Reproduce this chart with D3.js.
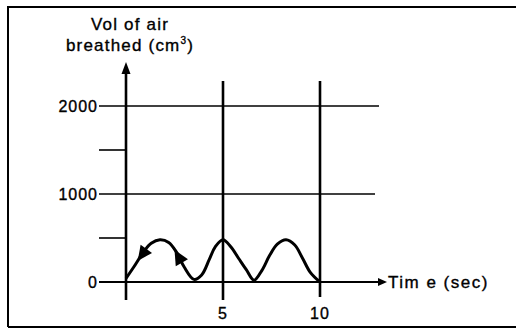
<!DOCTYPE html>
<html>
<head>
<meta charset="utf-8">
<script src="https://cdn.jsdelivr.net/npm/d3@7"></script>
<style>
  html, body { margin: 0; padding: 0; background: #fff; }
  svg { display: block; }
  text { font-family: "Liberation Sans", Arial, sans-serif; fill: #000; stroke: #000; stroke-width: 0.35px; }
</style>
</head>
<body>
<svg id="chart" width="516" height="335"></svg>
<script>
// Breathing trace: time (s) vs volume of air breathed (cm³)
const times   = [0, 0.4, 0.9, 1.3, 1.75, 2.2, 2.6, 3.0, 3.5, 3.9, 4.3, 4.6, 5.0, 5.4, 5.8, 6.2, 6.6, 7.0, 7.4, 7.8, 8.25, 8.7, 9.1, 9.5, 10];
const volumes = [40, 170, 340, 440, 480, 450, 340, 170, 30, 80, 260, 400, 480, 400, 270, 140, 20, 130, 300, 430, 480, 420, 270, 110, 0];

const yMajor = [0, 1000, 2000];      // labelled lines
const yMinor = [500, 1500];          // short unlabelled ticks
const xLabels = [5, 10];             // labelled time marks
const titleLines = ["Vol of air", "breathed (cm³)"];
const xTitle = "Tim e (sec)";

const svg = d3.select("#chart");
const x = d3.scaleLinear().domain([0, 10]).range([126, 320]);
const y = d3.scaleLinear().domain([0, 2000]).range([282, 106]);
const volAt = d3.scaleLinear().domain(times).range(volumes);

// frame (left, top, bottom edges)
const frame = svg.append("g").attr("stroke", "#000").attr("stroke-width", 2).attr("fill", "none");
frame.append("path").attr("d", "M8,327 L8,7 L516,7");
frame.append("path").attr("d", "M8,327 L516,327");

const tickLeft = x(0) - 27;

// horizontal labelled lines
yMajor.forEach(v => {
  const right = v === 0 ? x(10) + 60 : (v === 2000 ? x(10) + 59 : x(10) + 55);
  svg.append("line")
    .attr("x1", tickLeft).attr("x2", right)
    .attr("y1", y(v)).attr("y2", y(v))
    .attr("stroke", "#000").attr("stroke-width", v === 0 ? 2 : 1.6);
  svg.append("text")
    .attr("x", tickLeft - 1).attr("y", y(v))
    .attr("text-anchor", "end").attr("dy", "0.36em")
    .style("font-size", "16px").style("letter-spacing", "1px")
    .text(v);
});

// short minor ticks
yMinor.forEach(v => {
  svg.append("line")
    .attr("x1", tickLeft).attr("x2", x(0))
    .attr("y1", y(v)).attr("y2", y(v))
    .attr("stroke", "#000").attr("stroke-width", 1.6);
});

// vertical lines at 5 and 10 s
xLabels.forEach(t => {
  svg.append("line")
    .attr("x1", x(t)).attr("x2", x(t))
    .attr("y1", y(2000) - 25).attr("y2", y(0) + (t === 5 ? 18 : 15))
    .attr("stroke", "#000").attr("stroke-width", 2.6);
  svg.append("text")
    .attr("x", x(t)).attr("y", y(0) + 31)
    .attr("text-anchor", "middle").attr("dy", "0.36em")
    .style("font-size", "16px").style("letter-spacing", "1px")
    .text(t);
});

// y axis with arrow head
svg.append("line")
  .attr("x1", x(0)).attr("x2", x(0))
  .attr("y1", y(0) + 18).attr("y2", 70)
  .attr("stroke", "#000").attr("stroke-width", 2.6);
svg.append("path")
  .attr("d", `M${x(0)},62 L${x(0) - 4.5},74 L${x(0) + 4.5},74 Z`)
  .attr("fill", "#000");

// x axis arrow head
const axEnd = x(10) + 67;
svg.append("path")
  .attr("d", `M${axEnd},${y(0)} L${axEnd - 9},${y(0) - 4} L${axEnd - 9},${y(0) + 4} Z`)
  .attr("fill", "#000");

// axis titles
svg.append("text")
  .attr("x", x(10) + 68).attr("y", y(0)).attr("dy", "0.36em")
  .style("font-size", "17px").style("letter-spacing", "1.5px")
  .text(xTitle);

titleLines.forEach((s, i) => {
  const t = svg.append("text")
    .attr("x", x(0) + 4).attr("y", 30 + i * 21)
    .attr("text-anchor", "middle")
    .style("font-size", "17px").style("letter-spacing", "1.2px");
  if (s.includes("³")) {
    t.append("tspan").text(s.replace("³)", ""));
    t.append("tspan").attr("dy", "-7").style("font-size", "10px").text("3");
    t.append("tspan").attr("dy", "7").text(")");
  } else {
    t.text(s);
  }
});

// breathing curve
const pts = times.map((t, i) => [t, volumes[i]]);
const line = d3.line().x(d => x(d[0])).y(d => y(d[1])).curve(d3.curveCatmullRom.alpha(0.5));
svg.append("path")
  .datum(pts)
  .attr("d", line)
  .attr("fill", "none").attr("stroke", "#000").attr("stroke-width", 3)
  .attr("stroke-linejoin", "round");

// direction arrows on the first breath: [tip time, base time]
const arrows = [[0.6, 1.05], [2.5, 2.95]];
arrows.forEach(([tTip, tBase]) => {
  const tx = x(tTip), ty = y(volAt(tTip)), bx = x(tBase), by = y(volAt(tBase));
  const dx = tx - bx, dy = ty - by, len = Math.hypot(dx, dy);
  const ux = dx / len, uy = dy / len;
  const L = 15, W = 7;
  const cx = tx - ux * L, cy = ty - uy * L;
  svg.append("path")
    .attr("d", `M${tx},${ty} L${cx - uy * W},${cy + ux * W} L${cx + uy * W},${cy - ux * W} Z`)
    .attr("fill", "#000");
});
</script>
</body>
</html>
